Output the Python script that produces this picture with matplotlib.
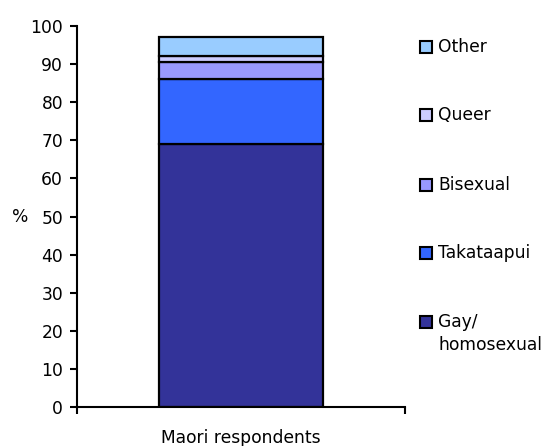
import matplotlib
matplotlib.use("Agg")
import matplotlib.pyplot as plt
from matplotlib.patches import Rectangle

plt.rcParams['font.family'] = ['DejaVu Sans']
FS = 12.3

categories = ["Maori respondents"]
series_names = ["Gay/\nhomosexual", "Takataapui", "Bisexual", "Queer", "Other"]
series_values = [69, 17, 4.5, 1.5, 5]
colors = ["#333399", "#3366FF", "#9999FF", "#CCCCFF", "#99CCFF"]
yticks = [0, 10, 20, 30, 40, 50, 60, 70, 80, 90, 100]

fig = plt.figure(figsize=(5.54, 4.46), dpi=100)
ax = fig.add_axes([77/554, 39/446, 328/554, 381/446])

bottom = 0
for name, v, c in zip(series_names, series_values, colors):
    ax.bar([0], [v], bottom=bottom, width=0.497, color=c, edgecolor="black", linewidth=1.6)
    bottom += v

ax.set_xlim(-0.5, 0.5)
ax.set_ylim(0, 100)
ax.set_yticks(yticks)
ax.set_yticklabels([str(t) for t in yticks], fontsize=FS)
ax.set_xticks([-0.5, 0.5])
ax.set_xticklabels([])
ax.tick_params(axis='y', direction='out', length=5, width=1.5, pad=5)
ax.tick_params(axis='x', direction='out', length=5, width=1.5)
for s in ['top', 'right']:
    ax.spines[s].set_visible(False)
for s in ['left', 'bottom']:
    ax.spines[s].set_linewidth(1.5)
ax.text(0.5, -(429 - 407) / 381, categories[0], transform=ax.transAxes,
        ha='center', va='top', fontsize=FS)
ax.set_ylabel("%", rotation=0, fontsize=FS, va='center', ha='center')
ax.yaxis.set_label_coords((20 - 77) / 328, 0.5)

# manual legend (top to bottom: reversed order)
leg_y = [47, 115, 185, 253, 322]
for name, c, yp in zip(series_names[::-1], colors[::-1], leg_y):
    fy = 1 - yp/446
    fig.patches.append(Rectangle((420/554, fy - 6/446), 12/554, 12/446, transform=fig.transFigure,
                                 facecolor=c, edgecolor='black', linewidth=1.5))
    lines = name.split("\n")
    fig.text(438/554, fy, lines[0], ha='left', va='center', fontsize=FS)
    if len(lines) > 1:
        fig.text(438/554, 1 - (yp + 23)/446, lines[1], ha='left', va='center', fontsize=FS)

fig.savefig("out.png", dpi=100)
